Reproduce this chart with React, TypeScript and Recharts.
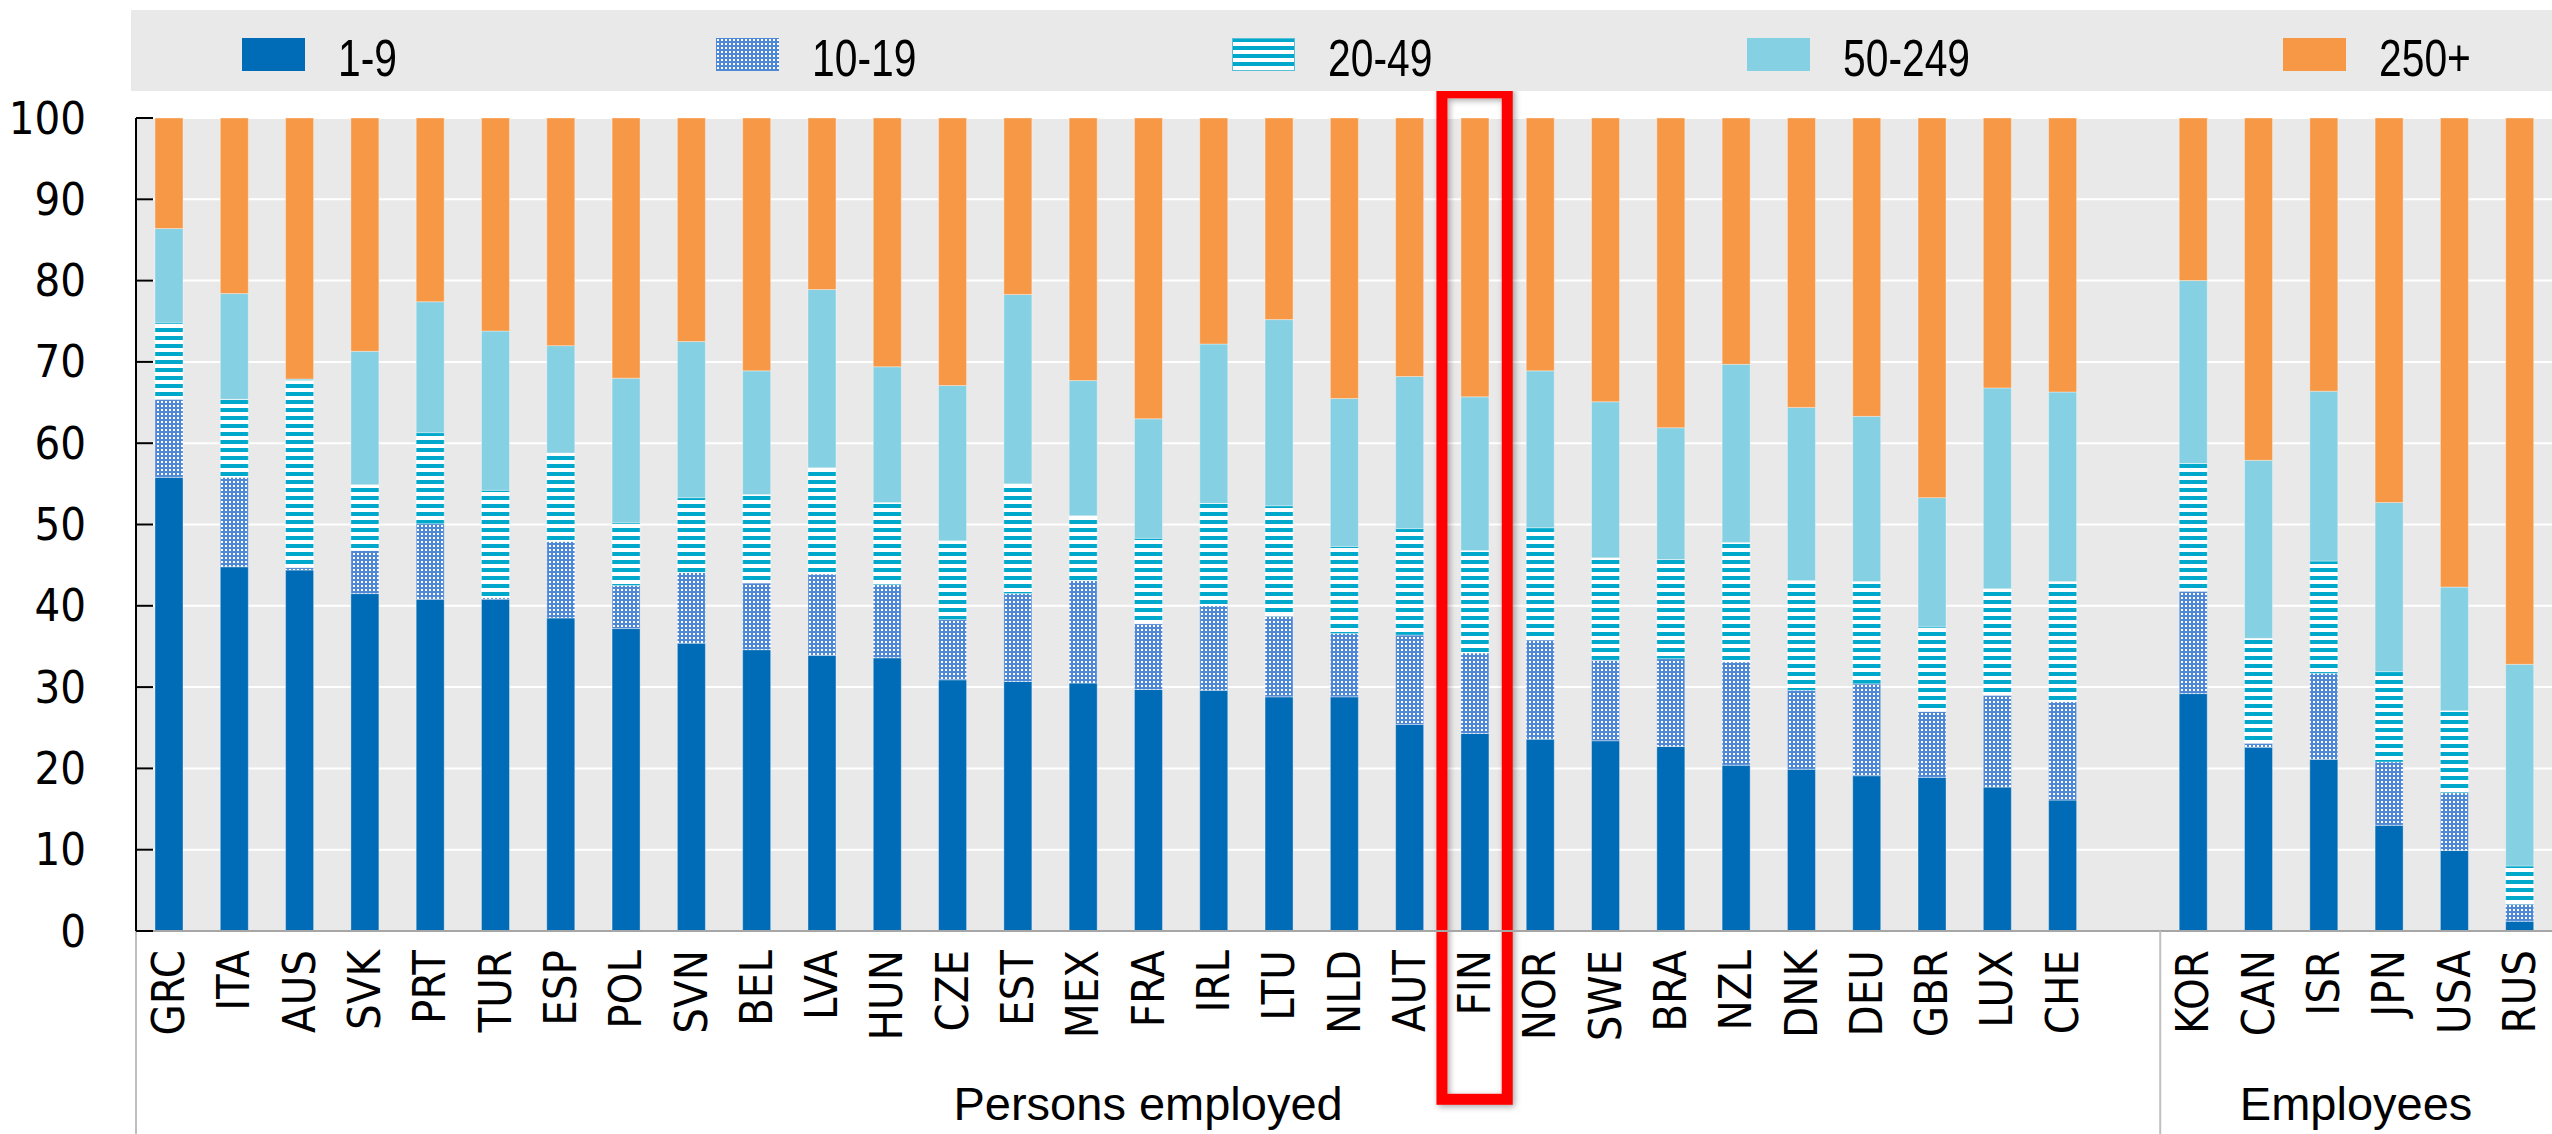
import React from "react";
import {
  BarChart,
  Bar,
  XAxis,
  YAxis,
  CartesianGrid,
  Legend,
  ReferenceArea,
} from "recharts";

// categories
const personsEmployed = [
  "GRC", "ITA", "AUS", "SVK", "PRT", "TUR", "ESP", "POL", "SVN", "BEL",
  "LVA", "HUN", "CZE", "EST", "MEX", "FRA", "IRL", "LTU", "NLD", "AUT",
  "FIN", "NOR", "SWE", "BRA", "NZL", "DNK", "DEU", "GBR", "LUX", "CHE",
];
const employees = ["KOR", "CAN", "ISR", "JPN", "USA", "RUS"];
const highlighted = "FIN";

// shares by firm size (%), same order as personsEmployed then employees
const size1to9 = [
  55.8, 44.8, 44.4, 41.5, 40.8, 40.8, 38.5, 37.2, 35.4, 34.6,
  33.9, 33.6, 30.9, 30.7, 30.5, 29.7, 29.6, 28.8, 28.8, 25.4,
  24.3, 23.6, 23.4, 22.7, 20.4, 19.9, 19.1, 18.9, 17.7, 16.1,
  29.2, 22.6, 21.1, 13.0, 9.9, 1.2,
];
const size10to19 = [
  9.6, 11.0, 0.3, 5.3, 9.3, 0.2, 9.4, 5.3, 8.7, 8.2,
  10.0, 9.0, 7.4, 10.8, 12.6, 8.1, 10.4, 9.9, 7.8, 11.0,
  9.9, 12.2, 9.9, 10.8, 12.7, 9.7, 11.3, 8.1, 11.3, 12.1,
  12.6, 0.5, 10.6, 7.8, 7.1, 2.1,
];
const size20to49 = [
  9.4, 9.6, 23.0, 8.1, 11.2, 13.2, 10.9, 7.7, 9.2, 10.9,
  13.1, 10.1, 9.7, 13.5, 8.0, 10.5, 12.6, 13.6, 10.7, 13.1,
  12.6, 13.8, 12.6, 12.2, 14.7, 13.5, 12.6, 10.4, 13.1, 14.8,
  15.7, 12.9, 13.8, 11.1, 10.1, 4.7,
];
const size50to249 = [
  11.6, 13.0, 0.2, 16.4, 16.1, 19.6, 13.2, 17.8, 19.2, 15.2,
  21.9, 16.7, 19.1, 23.3, 16.6, 14.7, 19.6, 22.9, 18.2, 18.7,
  18.9, 19.3, 19.2, 16.2, 21.9, 21.3, 20.3, 15.9, 24.7, 23.3,
  22.5, 21.9, 20.9, 20.8, 15.2, 24.8,
];
const size250plus = [
  13.6, 21.6, 32.1, 28.7, 22.6, 26.2, 28.0, 32.0, 27.5, 31.1,
  21.1, 30.6, 32.9, 21.7, 32.3, 37.0, 27.8, 24.8, 34.5, 31.8,
  34.3, 31.1, 34.9, 38.1, 30.3, 35.6, 36.7, 46.7, 33.2, 33.7,
  20.0, 42.1, 33.6, 47.3, 57.7, 67.2,
];
const yTicks = [0, 10, 20, 30, 40, 50, 60, 70, 80, 90, 100];

const series = [
  { key: "s1", name: "1-9", values: size1to9, fill: "#006BB6" },
  { key: "s2", name: "10-19", values: size10to19, fill: "url(#dots)" },
  { key: "s3", name: "20-49", values: size20to49, fill: "url(#stripes)" },
  { key: "s4", name: "50-249", values: size50to249, fill: "#85D0E3" },
  { key: "s5", name: "250+", values: size250plus, fill: "#F79846" },
];

const groups = [
  { label: "Persons employed", first: personsEmployed[0], slots: personsEmployed.length + 1 },
  { label: "Employees", first: employees[0], slots: employees.length },
];

// one empty slot between the two groups
const allCountries = [...personsEmployed, ...employees];
const data: any[] = [];
allCountries.forEach((c, i) => {
  const row: any = { name: c };
  series.forEach((s) => (row[s.key] = s.values[i]));
  data.push(row);
  if (i === personsEmployed.length - 1) data.push({ name: "" });
});

const CHART_W = 2552;
const CHART_H = 1134;
const Y_AXIS_W = 136;
const PLOT_TOP = 118;
const X_AXIS_H = 203;
const BAND = (CHART_W - Y_AXIS_W) / data.length;

const tickFont = "'DejaVu Sans Condensed', 'DejaVu Sans', sans-serif";
const labelFont = "'Liberation Sans', Arial, sans-serif";

const legendWidths = [474, 516, 515, 536, 260];

const YTick = (props: any) => {
  const { x, y, payload } = props;
  return (
    <g>
      <line x1={x} x2={x + 17} y1={y} y2={y} stroke="#000" strokeWidth={2} />
      <text
        x={x - 50}
        y={y}
        textAnchor="end"
        dominantBaseline="central"
        fontFamily={tickFont}
        fontStretch="condensed"
        fontSize={45}
        fill="#000"
      >
        {payload.value}
      </text>
    </g>
  );
};

const XTick = (props: any) => {
  const { x, y, payload } = props;
  const g = groups.find((gr) => gr.first === payload.value);
  const left = x - BAND / 2;
  return (
    <g>
      {g && (
        <>
          <line x1={left} x2={left} y1={y} y2={CHART_H} stroke="#bfbfbf" strokeWidth={2} />
          <text
            x={left + (g.slots * BAND) / 2}
            y={y + 189}
            textAnchor="middle"
            fontFamily={labelFont}
            fontSize={47}
            fill="#000"
          >
            {g.label}
          </text>
        </>
      )}
      <text
        x={x}
        y={y + 19}
        transform={`rotate(-90, ${x}, ${y + 19})`}
        textAnchor="end"
        dominantBaseline="central"
        fontFamily={tickFont}
        fontStretch="condensed"
        fontSize={45}
        fill="#000"
      >
        {payload.value}
      </text>
    </g>
  );
};

const LegendBox = () => (
  <div
    style={{
      background: "#e9e9e9",
      height: 81,
      display: "flex",
      alignItems: "center",
      paddingLeft: 111,
      boxSizing: "border-box",
    }}
  >
    {series.map((s, i) => (
      <div key={s.key} style={{ width: legendWidths[i], display: "flex", alignItems: "center" }}>
        <svg width={63} height={33} style={{ marginRight: 33, position: "relative", top: 4 }}>
          <rect x={0} y={0} width={63} height={33} fill={s.fill} stroke={i === 2 ? "#5bbfd8" : "none"} strokeWidth={2} />
        </svg>
        <span
          style={{
            fontFamily: labelFont,
            fontSize: 51,
            color: "#000",
            lineHeight: "51px",
            display: "inline-block",
            transform: "scaleX(0.8)",
            transformOrigin: "left center",
            position: "relative",
            top: 8,
            whiteSpace: "nowrap",
          }}
        >
          {s.name}
        </span>
      </div>
    ))}
  </div>
);

const RedBox = (props: any) => {
  const { x, y, width, height } = props;
  return (
    <rect
      x={x}
      y={y}
      width={width}
      height={height}
      fill="none"
      stroke="#ff0000"
      strokeWidth={11}
      filter="url(#boxShadow)"
    />
  );
};

export default function App() {
  return (
    <div style={{ width: CHART_W, height: CHART_H, position: "relative" }}>
      <style>{"body{margin:0;overflow:hidden}"}</style>
      <BarChart
        width={CHART_W}
        height={CHART_H}
        data={data}
        margin={{ top: PLOT_TOP, right: 0, bottom: 0, left: 0 }}
      >
        <defs>
          <pattern id="dots" patternUnits="userSpaceOnUse" width={4} height={4}>
            <rect x={0} y={0} width={4} height={4} fill="#4f88d6" />
            <rect x={1} y={1} width={2} height={2} fill="#ffffff" />
          </pattern>
          <pattern id="stripes" patternUnits="userSpaceOnUse" width={8} height={8}>
            <rect x={0} y={0} width={8} height={8} fill="#ffffff" />
            <rect x={0} y={0} width={8} height={4} fill="#00a9cb" />
          </pattern>
          <filter id="boxShadow" x="-50%" y="-5%" width="200%" height="110%">
            <feDropShadow dx={2} dy={2} stdDeviation={3} floodColor="#000" floodOpacity={0.35} />
          </filter>
        </defs>
        <CartesianGrid vertical={false} stroke="#ffffff" strokeWidth={2} fill="#e9e9e9" />
        <XAxis
          dataKey="name"
          interval={0}
          height={X_AXIS_H}
          tickSize={0}
          tickMargin={0}
          tickLine={false}
          axisLine={{ stroke: "#a6a6a6", strokeWidth: 2 }}
          tick={<XTick />}
        />
        <YAxis
          type="number"
          domain={[0, 100]}
          ticks={yTicks}
          width={Y_AXIS_W}
          tickSize={0}
          tickMargin={0}
          tickLine={false}
          axisLine={{ stroke: "#000", strokeWidth: 2 }}
          tick={<YTick />}
        />
        <Legend
          verticalAlign="middle"
          align="center"
          layout="horizontal"
          wrapperStyle={{ top: 10, left: 131, width: CHART_W - 131, height: 81 }}
          content={() => <LegendBox />}
        />
        {series.map((s) => (
          <Bar
            key={s.key}
            dataKey={s.key}
            name={s.name}
            stackId="a"
            fill={s.fill}
            stroke="#ffffff"
            strokeOpacity={0.35}
            strokeWidth={1}
            barSize={28}
            isAnimationActive={false}
          />
        ))}
        <ReferenceArea
          x1={highlighted}
          x2={highlighted}
          y1={-20.7}
          y2={103.1}
          ifOverflow="visible"
          shape={<RedBox />}
        />
      </BarChart>
    </div>
  );
}
